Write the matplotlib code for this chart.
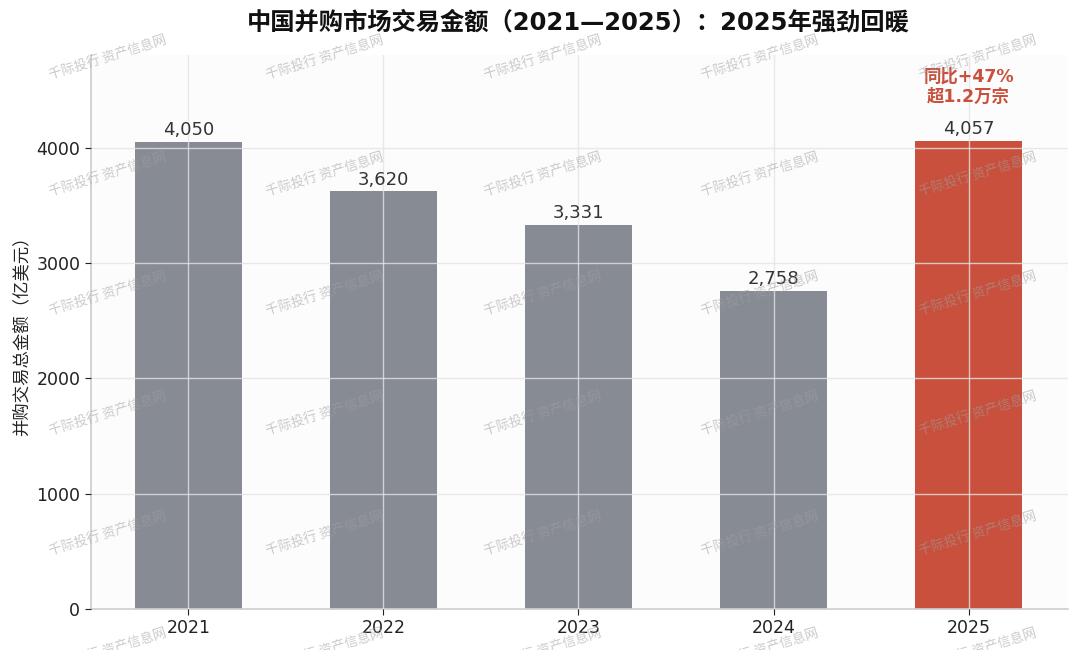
import matplotlib
matplotlib.use("Agg")
import matplotlib.pyplot as plt
import numpy as np

plt.rcParams['font.family'] = ['DejaVu Sans', 'Noto Sans CJK SC']
plt.rcParams['axes.unicode_minus'] = False

# data
years = ['2021', '2022', '2023', '2024', '2025']
amounts = [4050, 3620, 3331, 2758, 4057]
value_labels = ['4,050', '3,620', '3,331', '2,758', '4,057']
highlight_note = '同比+47%\n超1.2万宗'
yticks = [0, 1000, 2000, 3000, 4000]

gray = '#878b94'
red = '#c8503c'

fig = plt.figure(figsize=(10.8, 6.5), dpi=100)
ax = fig.add_axes([0.084, 0.063, 0.905, 0.852])
ax.set_facecolor('#fcfcfc')

x = np.arange(len(years))
colors = [gray] * (len(years) - 1) + [red]
bars = ax.bar(x, amounts, width=0.55, color=colors, zorder=2)

# grid in front of the bars
ax.grid(True, color='#e4e4e4', alpha=0.8, linewidth=1.0, zorder=3)
ax.set_axisbelow(False)

for b, lab in zip(bars, value_labels):
    ax.annotate(lab, (b.get_x() + b.get_width() / 2, b.get_height()),
                xytext=(0, 2), textcoords='offset points',
                ha='center', va='bottom', fontsize=13, color='#333333', zorder=5)

ax.annotate(highlight_note, (x[-1], amounts[-1]), xytext=(0, 25),
            textcoords='offset points', ha='center', va='bottom',
            fontsize=12.5, fontweight='bold', color=red,
            linespacing=1.2, multialignment='center', zorder=5)

ax.set_xlim(-0.5, 4.51)
ax.set_ylim(0, 4800)
ax.set_xticks(x)
ax.set_xticklabels(years)
ax.set_yticks(yticks)
ax.tick_params(axis='both', labelsize=12.5, colors='#222222', length=4)
ax.set_ylabel('并购交易总金额（亿美元）', fontsize=12.5, color='#222222', labelpad=4)

for s in ['top', 'right']:
    ax.spines[s].set_visible(False)
for s in ['left', 'bottom']:
    ax.spines[s].set_color('#cccccc')
    ax.spines[s].set_linewidth(1.2)

fig.text(0.535, 0.966, '中国并购市场交易金额（2021—2025）：2025年强劲回暖',
         ha='center', va='center', fontsize=17.5, fontweight='bold', color='#111111')

# watermark tiles
W, H = 1080, 650
for cy in [59, 176, 295, 415, 535, 652]:
    for cx in [108, 325, 543, 760, 978]:
        fig.text(cx / W, 1 - cy / H, '千际投行 资产信息网', family=['Noto Sans CJK SC'],
                 fontsize=9.5, color='#a0a0a0', alpha=0.55, rotation=17,
                 ha='center', va='center', zorder=10)

fig.savefig('out.png', dpi=100)
